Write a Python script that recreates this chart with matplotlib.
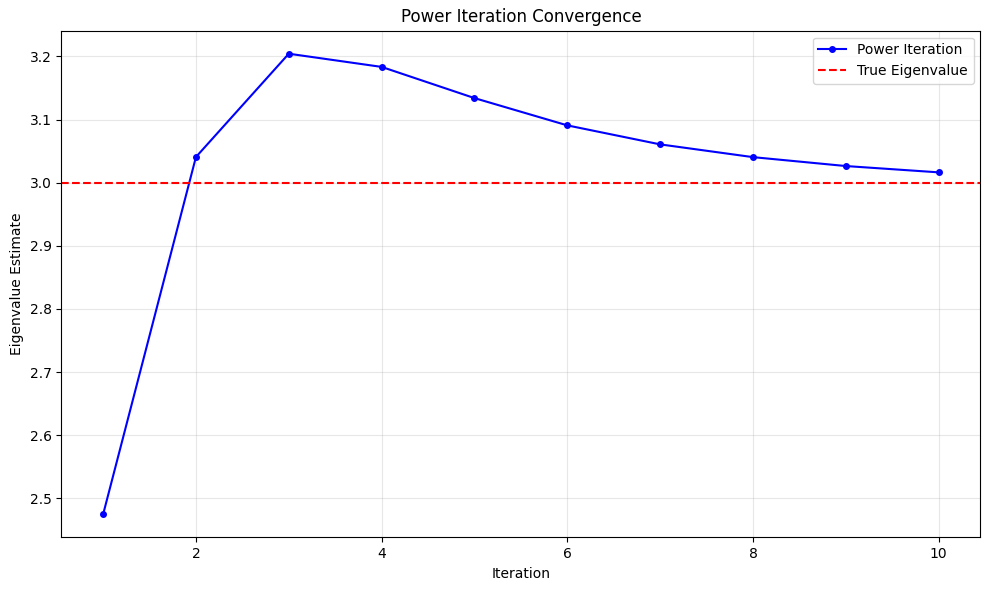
import numpy as np
import matplotlib.pyplot as plt

# eigenvalue estimates
iterations = [1, 2, 3, 4, 5, 6, 7, 8, 9, 10]
estimates = [2.4746, 3.0407, 3.2043, 3.1834, 3.1340, 3.0908, 3.0607, 3.0405, 3.0264, 3.0164]
true_value = 3.0

fig, ax = plt.subplots(figsize=(9.89, 5.9), dpi=100)
fig.subplots_adjust(left=0.062, right=0.9914, bottom=0.089, top=0.948)
ax.plot(iterations, estimates, 'bo-', markersize=4, label='Power Iteration')
ax.axhline(true_value, color='r', linestyle='--', label='True Eigenvalue')
ax.set_xlabel('Iteration')
ax.set_ylabel('Eigenvalue Estimate')
ax.set_title('Power Iteration Convergence')
ax.legend()
ax.grid(True, alpha=0.3)
plt.savefig('out.png')
